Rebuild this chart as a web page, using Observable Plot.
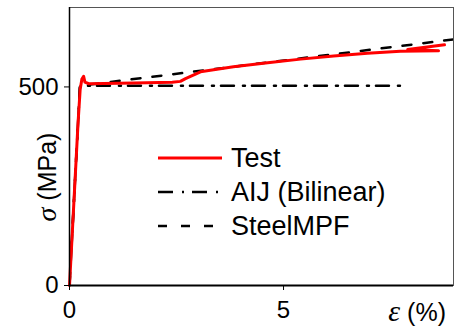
<!DOCTYPE html>
<html>
<head>
<meta charset="utf-8">
<script src="https://cdn.jsdelivr.net/npm/d3@7"></script>
<script src="https://cdn.jsdelivr.net/npm/@observablehq/plot@0.6"></script>
<style>
  html, body { margin: 0; padding: 0; background: #fff; }
  #chart { width: 454px; height: 329px; }
</style>
</head>
<body>
<div id="chart"></div>
<script>
// ---- data (strain in %, stress in MPa) ----
const testStrain = [0, 0.1, 0.2, 0.25, 0.29, 0.33, 0.36, 0.45, 1.5, 2.4, 2.59, 2.71, 3.06, 3.83, 4.63, 5.40, 6.17, 6.96, 7.73, 8.62, 7.9, 8.76];
const testStress = [0, 205, 410, 495, 520, 527, 512, 508, 510, 512, 514, 521, 538, 551, 561, 570, 578, 585, 590, 591, 594, 606];
const aijStrain = [0, 0.245, 7.8];
const aijStress = [0, 503, 503];
const mpfStrain = [0, 0.245, 9.0];
const mpfStress = [0, 503, 620];
const xTicks = [0, 5];
const yTicks = [0, 500];
const legendLabels = ["Test", "AIJ (Bilinear)", "SteelMPF"];

const zip = (xs, ys) => xs.map((x, i) => ({x, y: ys[i]}));
const test = zip(testStrain, testStress);
const aij = zip(aijStrain, aijStress);
const mpf = zip(mpfStrain, mpfStress);

const W = 454, H = 329;
const chart = Plot.plot({
  width: W, height: H,
  marginLeft: 69, marginRight: 1, marginTop: 7, marginBottom: 44,
  style: {fontFamily: "Liberation Sans, Arial, sans-serif", fontSize: "24px", background: "#fff", color: "#000"},
  x: {domain: [0, 8.97]},
  y: {domain: [0, 700]},
  marks: [
    Plot.frame({stroke: "#555", strokeWidth: 1}),
    Plot.line(aij, {x: "x", y: "y", stroke: "#000", strokeWidth: 2.5, strokeDasharray: "13,9,2,7", clip: true}),
    Plot.line(mpf, {x: "x", y: "y", stroke: "#000", strokeWidth: 2.5, strokeDasharray: "9,12", clip: true}),
    Plot.line(test, {x: "x", y: "y", stroke: "#ff0000", strokeWidth: 3, strokeLinejoin: "round"}),
    Plot.ruleX([0], {stroke: "#000", strokeWidth: 1.5}),
    Plot.ruleY([0], {stroke: "#000", strokeWidth: 2}),
    Plot.axisX({ticks: xTicks, tickSize: 5, tickPadding: 10, label: null, fontSize: 24, stroke: "#000"}),
    Plot.axisY({ticks: yTicks, tickSize: 5, tickPadding: 6, label: null, fontSize: 24, stroke: "#000"})
  ]
});
document.getElementById("chart").appendChild(chart);

const svg = d3.select(chart);
// y label
const yl = svg.append("text")
  .attr("transform", "translate(56,177) rotate(-90)")
  .attr("text-anchor", "middle")
  .attr("font-size", 25)
  .attr("font-family", "Liberation Sans, Arial, sans-serif")
  .attr("fill", "#000");
yl.append("tspan").attr("font-family", "Liberation Serif, serif").attr("font-style", "italic").attr("font-size", 28).text("σ");
yl.append("tspan").text(" (MPa)");
// x label
const xl = svg.append("text")
  .attr("x", 446).attr("y", 321)
  .attr("text-anchor", "end")
  .attr("font-size", 25)
  .attr("font-family", "Liberation Sans, Arial, sans-serif")
  .attr("fill", "#000");
xl.append("tspan").attr("font-family", "Liberation Serif, serif").attr("font-style", "italic").attr("font-size", 30).text("ε");
xl.append("tspan").text(" (%)");

// legend
const leg = svg.append("g")
  .attr("font-family", "Liberation Sans, Arial, sans-serif")
  .attr("font-size", 27)
  .attr("text-anchor", "start");
const styles = [
  {stroke: "#ff0000", dash: null, w: 3},
  {stroke: "#000", dash: "15,9,2,8", w: 2.5},
  {stroke: "#000", dash: "9,14", w: 2.5}
];
const baselines = [167, 201, 235];
legendLabels.forEach((lab, i) => {
  const yb = baselines[i];
  const ln = leg.append("line")
    .attr("x1", 158).attr("x2", 222)
    .attr("y1", yb - 9).attr("y2", yb - 9)
    .attr("stroke", styles[i].stroke).attr("stroke-width", styles[i].w);
  if (styles[i].dash) ln.attr("stroke-dasharray", styles[i].dash);
  leg.append("text").attr("x", 231).attr("y", yb).attr("text-anchor", "start").attr("fill", "#000").text(lab);
});
</script>
</body>
</html>
